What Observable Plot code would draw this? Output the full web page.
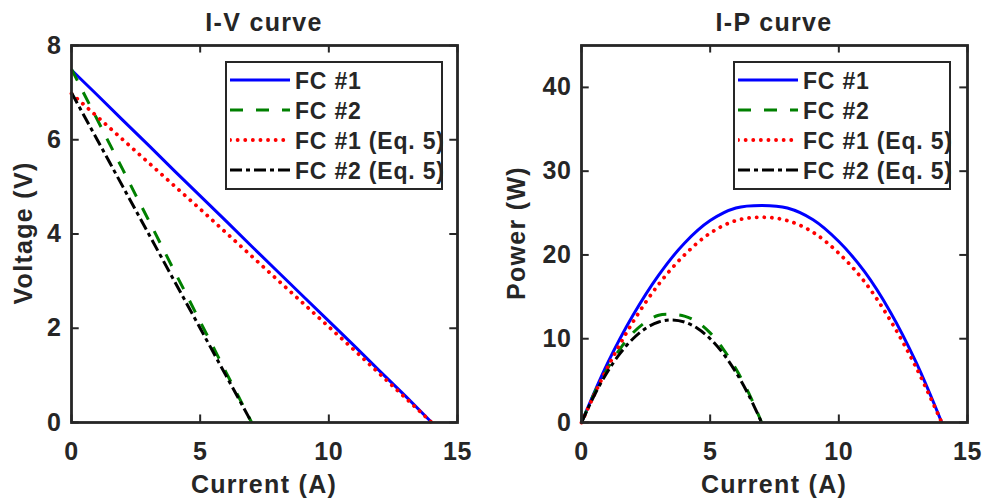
<!DOCTYPE html>
<html><head><meta charset="utf-8">
<script src="https://cdn.jsdelivr.net/npm/d3@7"></script>
<script src="https://cdn.jsdelivr.net/npm/@observablehq/plot@0.6"></script>
<style>
body{margin:0;background:#fff;}
#root{position:relative;width:984px;height:502px;overflow:hidden;font-family:"Liberation Sans",Arial,sans-serif;font-weight:bold;color:#262626;}
.abs{position:absolute;}
.big{font-size:25px;line-height:25px;letter-spacing:1.3px;white-space:nowrap;}
.legend{position:absolute;box-sizing:border-box;border:2.6px solid #262626;background:#fff;width:218px;height:129px;}
.legend .row{position:absolute;left:0;height:30px;}
.legend svg{position:absolute;left:3px;top:0;}
.legend span{position:absolute;left:68px;font-size:23px;line-height:30px;letter-spacing:0.8px;white-space:nowrap;}
</style></head><body><div id="root"></div>
<script>
// ---- data ----
const seriesNames = ["FC #1", "FC #2", "FC #1 (Eq. 5)", "FC #2 (Eq. 5)"];

const currentFC1 = [0, 1, 2, 3, 4, 5, 6, 7, 8, 9, 10, 11, 12, 13, 14];
const voltageFC1 = [7.48, 6.95, 6.41, 5.88, 5.34, 4.81, 4.28, 3.74, 3.21, 2.68, 2.15, 1.62, 1.08, 0.55, 0];
const voltageFC1Eq5 = [6.98, 6.49, 6.0, 5.51, 5.02, 4.53, 4.03, 3.53, 3.03, 2.53, 2.03, 1.53, 1.02, 0.51, 0];
const powerFC1 = [0, 7.0, 12.8, 17.6, 21.4, 24.1, 25.6, 25.9, 25.6, 24.2, 21.6, 18.0, 13.2, 7.2, 0];
const powerFC1Eq5 = [0, 6.5, 12.0, 16.5, 20.0, 22.6, 24.1, 24.5, 24.1, 22.7, 20.2, 16.8, 12.2, 6.6, 0];

const currentFC2 = [0, 0.5, 1, 1.5, 2, 2.5, 3, 3.5, 4, 4.5, 5, 5.5, 6, 6.5, 7];
const voltageFC2 = [7.5, 6.96, 6.43, 5.89, 5.36, 4.82, 4.29, 3.75, 3.21, 2.68, 2.14, 1.61, 1.07, 0.54, 0];
const voltageFC2Eq5 = [7.0, 6.5, 6.0, 5.5, 5.0, 4.5, 4.0, 3.5, 3.0, 2.5, 2.0, 1.5, 1.0, 0.5, 0];
const powerFC2 = [0, 3.5, 6.4, 8.8, 10.7, 12.0, 12.8, 12.9, 12.7, 12.0, 10.7, 8.8, 6.4, 3.5, 0];
const powerFC2Eq5 = [0, 3.25, 6.0, 8.25, 10.0, 11.25, 12.0, 12.25, 12.0, 11.25, 10.0, 8.25, 6.0, 3.25, 0];

const xTicks = [0, 5, 10, 15];
const voltageTicks = [0, 2, 4, 6, 8];
const powerTicks = [0, 10, 20, 30, 40];

// ---- styles ----
const styles = [
  {stroke: "#0000ff", strokeWidth: 3, strokeDasharray: null, strokeLinecap: "butt"},
  {stroke: "#008000", strokeWidth: 3, strokeDasharray: "13,13", strokeLinecap: "butt"},
  {stroke: "#ff0000", strokeWidth: 3.8, strokeDasharray: "0.1,7.5", strokeLinecap: "round"},
  {stroke: "#000000", strokeWidth: 3, strokeDasharray: "12,4,4,4", strokeLinecap: "butt"}
];

function rows(current, values) { return current.map((c, i) => ({current: c, value: values[i]})); }

const ivSeries = [rows(currentFC1, voltageFC1), rows(currentFC2, voltageFC2), rows(currentFC1, voltageFC1Eq5), rows(currentFC2, voltageFC2Eq5)];
const ipSeries = [rows(currentFC1, powerFC1), rows(currentFC2, powerFC2), rows(currentFC1, powerFC1Eq5), rows(currentFC2, powerFC2Eq5)];

const root = document.getElementById("root");

const TICK_FRAC = 0.02; // tick length as a fraction of the frame

// MATLAB-style inward ticks on all four sides
function inwardTicks(xDomain, yDomain, xValues, yValues) {
  const dy = (yDomain[1] - yDomain[0]) * TICK_FRAC * 1.0;
  const dx = (xDomain[1] - xDomain[0]) * TICK_FRAC;
  const st = {stroke: "#262626", strokeWidth: 2};
  return [
    Plot.ruleX(xValues, {x: d => d, y1: yDomain[0], y2: yDomain[0] + dy, ...st}),
    Plot.ruleX(xValues, {x: d => d, y1: yDomain[1], y2: yDomain[1] - dy, ...st}),
    Plot.ruleY(yValues, {y: d => d, x1: xDomain[0], x2: xDomain[0] + dx, ...st}),
    Plot.ruleY(yValues, {y: d => d, x1: xDomain[1], x2: xDomain[1] - dx, ...st})
  ];
}

function panel({series, yDomain, yTicks, width, marginLeft, marginRight, curve}) {
  const xDomain = [0, 15];
  const lines = series.map((data, i) => Plot.line(data, {x: "current", y: "value", curve, ...styles[i], strokeLinejoin: "round"}));
  return Plot.plot({
    width, height: 502, marginLeft, marginRight, marginTop: 45, marginBottom: 80,
    style: {fontFamily: "'Liberation Sans', Arial, sans-serif", fontSize: "25px", fontWeight: "bold", color: "#262626", background: "transparent", overflow: "visible", letterSpacing: "0.6px"},
    x: {domain: xDomain},
    y: {domain: yDomain},
    marks: [
      ...lines,
      Plot.axisX({anchor: "bottom", ticks: xTicks, tickSize: 0, tickPadding: 20, label: null}),
      Plot.axisY({anchor: "left", ticks: yTicks, tickSize: 0, tickPadding: 10, label: null}),
      ...inwardTicks(xDomain, yDomain, xTicks, yTicks),
      Plot.frame({stroke: "#262626", strokeWidth: 2.8})
    ]
  });
}

const left = panel({series: ivSeries, yDomain: [0, 8], yTicks: voltageTicks, width: 492, marginLeft: 71, marginRight: 35, curve: "linear"});
left.style.position = "absolute"; left.style.left = "0px"; left.style.top = "0px";
root.appendChild(left);

const right = panel({series: ipSeries, yDomain: [0, 45], yTicks: powerTicks, width: 494, marginLeft: 91, marginRight: 17, curve: "catmull-rom"});
right.style.position = "absolute"; right.style.left = "490px"; right.style.top = "0px";
root.appendChild(right);

function addText(text, cx, top, rotate) {
  const d = document.createElement("div");
  d.className = "abs big";
  d.textContent = text;
  d.style.left = cx + "px"; d.style.top = top + "px";
  d.style.transform = rotate ? "translate(-50%,-50%) rotate(-90deg)" : "translateX(-50%)";
  root.appendChild(d);
}
addText("I-V curve", 264, 10, false);
addText("I-P curve", 774, 10, false);
addText("Current (A)", 264, 472, false);
addText("Current (A)", 774, 472, false);
addText("Voltage (V)", 23, 233, true);
addText("Power (W)", 516, 233, true);

function addLegend(x, y) {
  const box = document.createElement("div");
  box.className = "legend";
  box.style.left = x + "px"; box.style.top = y + "px";
  seriesNames.forEach((name, i) => {
    const row = document.createElement("div");
    row.className = "row";
    row.style.top = (3 + i * 30) + "px";
    row.style.width = "210px";
    const s = styles[i];
    row.innerHTML = `<svg width="62" height="30"><line x1="0" x2="60" y1="14" y2="14" stroke="${s.stroke}" stroke-width="${s.strokeWidth}" ${s.strokeDasharray ? `stroke-dasharray="${s.strokeDasharray}"` : ""} stroke-linecap="${s.strokeLinecap}"/></svg><span>${name}</span>`;
    box.appendChild(row);
  });
  root.appendChild(box);
}
addLegend(225, 61);
addLegend(733, 61);
</script>
</body></html>
